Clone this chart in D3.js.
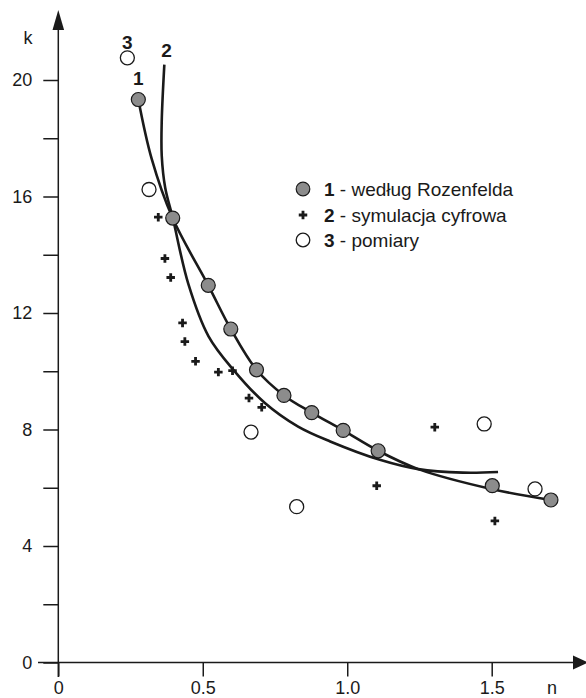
<!DOCTYPE html>
<meta charset="utf-8">
<style>
body { margin: 0; background: #fff; }
svg text { font-family: "Liberation Sans", Arial, sans-serif; fill: #1a1a1a; }
.curve { fill: none; stroke: #1a1a1a; stroke-width: 2.6px; }
.axis line, .axis-line { stroke: #1a1a1a; stroke-width: 1.5px; }
</style>
<body>
<script src="https://cdnjs.cloudflare.com/ajax/libs/d3/7.8.5/d3.min.js"></script>
<script>
// values (n on x, k on y)
var rozenfeldN = [0.277, 0.396, 0.519, 0.597, 0.686, 0.781, 0.877, 0.986, 1.107, 1.502, 1.705];
var rozenfeldK = [19.33, 15.26, 12.95, 11.45, 10.05, 9.17, 8.58, 7.97, 7.27, 6.07, 5.58];

var symulacjaN = [0.346, 0.369, 0.389, 0.430, 0.438, 0.475, 0.554, 0.603, 0.660, 0.704, 1.102, 1.303, 1.511];
var symulacjaK = [15.29, 13.87, 13.22, 11.66, 11.02, 10.34, 9.97, 10.02, 9.08, 8.76, 6.07, 8.08, 4.86];

var pomiaryN = [0.239, 0.314, 0.667, 0.825, 1.474, 1.650];
var pomiaryK = [20.76, 16.24, 7.91, 5.35, 8.19, 5.96];

// curve 1 (Rozenfeld) and curve 2 (simulation)
var curve1N = [0.277, 0.323, 0.396, 0.519, 0.597, 0.686, 0.781, 0.877, 0.986, 1.107, 1.246, 1.502, 1.705];
var curve1K = [19.33, 17.3, 15.25, 12.95, 11.45, 10.05, 9.17, 8.58, 7.97, 7.27, 6.64, 5.95, 5.58];
var curve2N = [0.367, 0.358, 0.358, 0.370, 0.396, 0.45, 0.52, 0.606, 0.715, 0.83, 0.941, 1.113, 1.246, 1.40, 1.522];
var curve2K = [20.53, 18.6, 17.4, 16.3, 15.27, 13.0, 11.2, 10.05, 8.91, 8.1, 7.59, 6.96, 6.64, 6.52, 6.54];

var xTicks = [0, 0.5, 1.0, 1.5];
var yTicks = [0, 2, 4, 6, 8, 10, 12, 14, 16, 18, 20];
var legendNums = ["1", "2", "3"];
var legendLabels = [" - według Rozenfelda", " - symulacja cyfrowa", " - pomiary"];

var width = 586, height = 698;

var x = d3.scaleLinear().domain([0, 1.5]).range([58.3, 491.7]);
var y = d3.scaleLinear().domain([0, 20]).range([662.5, 80]);

var svg = d3.select("body").append("svg")
    .attr("width", width)
    .attr("height", height);

// Y axis with ticks every 2, labels every 4
var yAxis = svg.append("g")
    .attr("class", "axis")
    .attr("transform", "translate(" + x(0) + ",0)")
    .call(d3.axisLeft(y).tickValues(yTicks).tickSize(15).tickPadding(11)
      .tickFormat(function(d) { return d % 4 === 0 ? d : ""; }));
yAxis.select(".domain").remove();
yAxis.selectAll("text").attr("font-size", 18).attr("font-family", null);

// X axis
var xAxis = svg.append("g")
    .attr("class", "axis")
    .attr("transform", "translate(0," + y(0) + ")")
    .call(d3.axisBottom(x).tickValues(xTicks).tickSize(14)
      .tickFormat(function(d) { return d === 0 ? "0" : d3.format(".1f")(d); }));
xAxis.select(".domain").remove();
xAxis.selectAll("text").attr("font-size", 18).attr("font-family", null)
    .attr("y", 31.5).attr("dy", null);

// axis lines with arrows
svg.append("line").attr("class", "axis-line")
    .attr("x1", x(0)).attr("x2", x(0)).attr("y1", 28).attr("y2", 677);
svg.append("line").attr("class", "axis-line")
    .attr("x1", 38).attr("x2", 575).attr("y1", y(0)).attr("y2", y(0));
svg.append("path")
    .attr("d", "M" + x(0) + ",10L" + (x(0) + 5.8) + ",30L" + (x(0) - 5.8) + ",30Z")
    .style("fill", "#1a1a1a");
svg.append("path")
    .attr("d", "M588," + y(0) + "L573," + (y(0) - 7) + "L573," + (y(0) + 7) + "Z")
    .style("fill", "#1a1a1a");

svg.append("text").attr("x", 28).attr("y", 44).attr("text-anchor", "middle")
    .attr("font-size", 18).text("k");
svg.append("text").attr("x", 552).attr("y", 694).attr("text-anchor", "middle")
    .attr("font-size", 18).text("n");

// curves
var line = d3.line()
    .x(function(d) { return x(d[0]); })
    .y(function(d) { return y(d[1]); })
    .curve(d3.curveCatmullRom.alpha(0.5));

svg.append("path").datum(d3.zip(curve1N, curve1K)).attr("class", "curve").attr("d", line);
svg.append("path").datum(d3.zip(curve2N, curve2K)).attr("class", "curve").attr("d", line);

// curve labels
svg.append("text").attr("x", x(0.239)).attr("y", 49).attr("text-anchor", "middle")
    .attr("font-size", 19).attr("font-weight", "bold").text("3");
svg.append("text").attr("x", x(0.375)).attr("y", 57).attr("text-anchor", "middle")
    .attr("font-size", 19).attr("font-weight", "bold").text("2");
svg.append("text").attr("x", x(0.277)).attr("y", 85).attr("text-anchor", "middle")
    .attr("font-size", 19).attr("font-weight", "bold").text("1");

// markers
var cross = d3.symbol().type(d3.symbolCross).size(40);

svg.selectAll(".plus")
    .data(d3.zip(symulacjaN, symulacjaK))
  .enter().append("path")
    .attr("class", "plus")
    .attr("transform", function(d) { return "translate(" + x(d[0]) + "," + y(d[1]) + ")"; })
    .attr("d", cross)
    .style("fill", "#1a1a1a");

svg.selectAll(".open")
    .data(d3.zip(pomiaryN, pomiaryK))
  .enter().append("circle")
    .attr("class", "open")
    .attr("cx", function(d) { return x(d[0]); })
    .attr("cy", function(d) { return y(d[1]); })
    .attr("r", 7)
    .style("fill", "#fff").style("stroke", "#1a1a1a").style("stroke-width", 1.3);

svg.selectAll(".gray")
    .data(d3.zip(rozenfeldN, rozenfeldK))
  .enter().append("circle")
    .attr("class", "gray")
    .attr("cx", function(d) { return x(d[0]); })
    .attr("cy", function(d) { return y(d[1]); })
    .attr("r", 7)
    .style("fill", "#8c8c8c").style("stroke", "#1a1a1a").style("stroke-width", 1.2);

// legend
var legendY = [189, 215, 240];
svg.append("circle").attr("cx", 303).attr("cy", legendY[0]).attr("r", 6.8)
    .style("fill", "#8c8c8c").style("stroke", "#1a1a1a").style("stroke-width", 1.2);
svg.append("path").attr("transform", "translate(303," + legendY[1] + ")").attr("d", cross)
    .style("fill", "#1a1a1a");
svg.append("circle").attr("cx", 303).attr("cy", legendY[2]).attr("r", 6.8)
    .style("fill", "#fff").style("stroke", "#1a1a1a").style("stroke-width", 1.3);

legendNums.forEach(function(num, i) {
  var t = svg.append("text")
      .attr("x", 324)
      .attr("y", legendY[i] + 6.5)
      .attr("font-size", 19);
  t.append("tspan").attr("font-weight", "bold").text(num);
  t.append("tspan").text(legendLabels[i]);
});
</script>
</body>
